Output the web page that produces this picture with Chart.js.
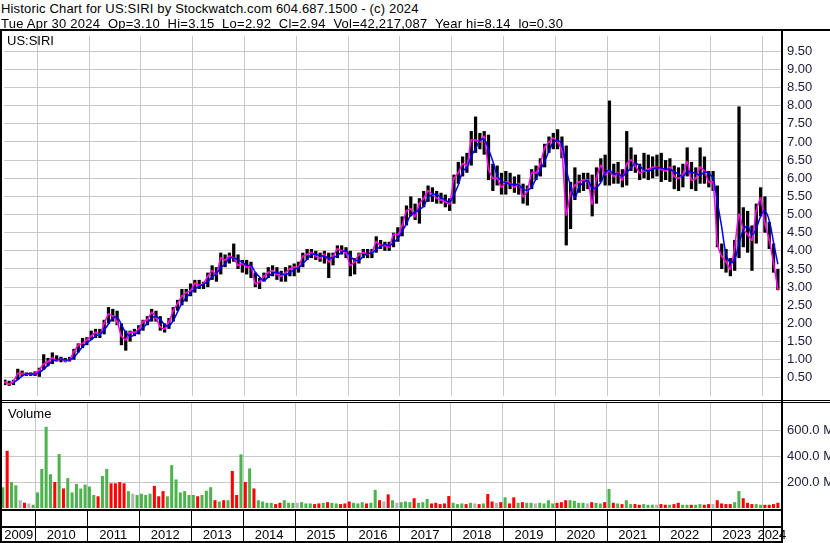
<!DOCTYPE html>
<html>
<head>
<meta charset="utf-8">
<script src="https://cdn.jsdelivr.net/npm/chart.js@4.4.1/dist/chart.umd.min.js"></script>
<style>
body{margin:0;background:#fff;width:830px;height:543px;overflow:hidden;position:relative;font-family:Arial,"Liberation Sans",sans-serif;}
canvas{position:absolute;left:0;}
.txt{position:absolute;font-size:13px;line-height:15px;color:#000;white-space:pre;}
.ln{position:absolute;background:#000;}
</style>
</head>
<body>
<canvas id="price" width="830" height="368" style="top:32px"></canvas>
<canvas id="vol" width="830" height="140" style="top:403px"></canvas>

<div class="txt" style="left:1px;top:0.5px;letter-spacing:0.17px">Historic Chart for US:SIRI by Stockwatch.com 604.687.1500 - (c) 2024</div>
<div class="txt" style="left:1px;top:15.5px;letter-spacing:0.24px">Tue Apr 30 2024  Op=3.10  Hi=3.15  Lo=2.92  Cl=2.94  Vol=42,217,087  Year hi=8.14  lo=0.30</div>
<div class="txt" style="left:7px;top:33px">US:SIRI</div>
<div class="txt" style="left:8px;top:406px">Volume</div>
<div class="ln" style="left:0;top:29px;width:830px;height:2px"></div>
<div class="ln" style="left:0;top:31px;width:2px;height:512px"></div>
<div class="ln" style="left:781px;top:31px;width:2px;height:512px"></div>
<div class="ln" style="left:0;top:400px;width:830px;height:1px"></div>
<div class="ln" style="left:0;top:402px;width:830px;height:1px"></div>

<script>
// monthly bars, first one is May 2009, last one is Apr 2024
const startYear = 2009;
const startMonth = 5;

const lows = [
  0.30,0.28,0.30,0.45,0.55,0.55,0.55,0.55,
  0.53,0.72,0.82,0.88,0.95,0.93,0.93,0.95,1.00,1.20,1.32,1.40,
  1.55,1.60,1.60,1.70,2.00,2.05,1.95,1.40,1.25,1.50,1.65,1.70,
  1.80,1.95,2.05,2.05,1.80,1.75,1.85,2.05,2.35,2.50,2.60,2.75,
  2.85,2.95,2.95,3.00,3.20,3.15,3.35,3.55,3.65,3.70,3.50,3.40,
  3.35,3.25,3.00,2.95,3.15,3.25,3.30,3.20,3.15,3.15,3.30,3.30,
  3.40,3.55,3.75,3.80,3.75,3.70,3.65,3.25,3.60,3.80,3.90,3.80,
  3.30,3.35,3.65,3.80,3.80,3.80,3.95,4.05,4.00,4.00,4.10,4.25,
  4.40,4.70,4.95,4.85,4.75,5.20,5.35,5.35,5.30,5.30,5.20,5.10,
  5.30,5.85,6.05,6.15,6.35,6.70,6.80,6.65,5.95,5.65,5.80,5.55,
  5.55,5.70,5.60,5.55,5.30,5.25,5.70,5.95,6.05,6.30,6.70,6.80,
  6.80,6.55,4.15,4.60,5.40,5.60,5.65,5.70,4.95,5.30,5.90,5.80,
  5.80,5.85,5.85,5.75,5.80,6.20,6.15,5.95,6.00,5.95,6.00,6.05,
  5.90,5.95,5.90,5.70,5.65,5.75,6.05,5.70,5.65,5.85,5.85,5.75,
  5.65,4.10,3.50,3.40,3.30,3.45,3.80,4.10,3.95,3.45,4.20,4.95,
  4.50,4.05,3.40,2.92
];
const highs = [
  0.45,0.42,0.45,0.75,0.70,0.65,0.65,0.68,
  0.78,1.15,1.05,1.20,1.12,1.08,1.05,1.08,1.30,1.45,1.60,1.62,
  1.80,1.85,1.85,2.10,2.45,2.40,2.35,2.00,1.80,1.80,1.85,1.95,
  2.10,2.20,2.40,2.35,2.20,2.00,2.15,2.45,2.65,2.95,2.95,3.10,
  3.20,3.20,3.15,3.40,3.60,3.55,3.95,3.90,3.95,4.20,3.90,3.75,
  3.75,3.70,3.40,3.25,3.40,3.55,3.60,3.55,3.45,3.55,3.60,3.65,
  3.70,3.95,4.05,4.05,4.00,3.95,4.00,3.95,3.95,4.15,4.15,4.10,
  4.00,3.80,3.95,4.05,4.05,4.05,4.40,4.30,4.25,4.25,4.50,4.65,
  4.95,5.25,5.50,5.30,5.45,5.65,5.80,5.75,5.65,5.60,5.55,5.45,
  6.10,6.45,6.60,6.70,7.30,7.70,7.25,7.30,7.20,6.40,6.35,6.15,
  6.20,6.15,6.05,6.10,5.85,5.80,6.25,6.35,6.55,6.95,7.15,7.25,
  7.35,7.15,6.90,5.90,6.30,6.10,6.15,6.15,6.10,6.30,6.55,6.65,
  8.14,6.40,6.45,6.25,7.30,6.85,6.65,6.40,6.70,6.65,6.60,6.65,
  6.70,6.50,6.55,6.35,6.30,6.40,6.85,6.45,6.30,6.85,6.60,6.20,
  6.20,5.80,4.20,4.05,3.80,4.30,7.98,5.20,5.10,4.70,5.30,5.75,
  5.50,4.80,4.20,3.50
];
const closes = [
  0.38,0.33,0.40,0.62,0.62,0.60,0.60,0.62,
  0.72,0.88,0.95,1.05,0.98,1.02,0.97,1.00,1.22,1.40,1.45,1.55,
  1.65,1.75,1.70,2.00,2.25,2.20,2.05,1.65,1.55,1.75,1.75,1.85,
  2.05,2.10,2.30,2.15,1.90,1.85,2.05,2.35,2.55,2.75,2.85,2.90,
  3.10,3.05,3.10,3.30,3.45,3.35,3.80,3.75,3.85,3.80,3.60,3.65,
  3.55,3.58,3.10,3.15,3.30,3.40,3.45,3.35,3.30,3.40,3.50,3.55,
  3.55,3.85,3.90,3.95,3.85,3.80,3.90,3.70,3.85,4.05,4.00,3.95,
  3.60,3.70,3.90,3.95,3.92,3.95,4.25,4.15,4.15,4.10,4.45,4.45,
  4.70,5.10,5.15,4.95,5.30,5.45,5.65,5.55,5.45,5.40,5.35,5.30,
  6.00,6.15,6.40,6.35,7.05,7.05,7.00,7.15,6.25,6.00,6.00,5.75,
  5.90,5.85,5.75,5.85,5.50,5.65,6.15,6.15,6.40,6.85,7.00,7.10,
  7.00,6.75,5.00,5.60,5.80,5.90,5.95,5.95,5.30,6.00,6.35,6.10,
  6.20,6.05,6.15,5.95,6.40,6.50,6.35,6.15,6.20,6.25,6.30,6.30,
  6.25,6.20,6.30,6.05,6.00,6.10,6.45,5.95,6.00,6.30,6.20,5.90,
  5.90,4.20,3.85,3.70,3.50,4.10,5.00,4.60,4.45,4.30,5.10,5.45,
  4.75,4.30,3.65,2.94
];
// volume in millions of shares
const volumes = [
  160,440,200,175,60,40,35,25,
  120,300,625,260,200,415,150,230,120,185,150,180,
  165,100,90,246,300,190,190,200,190,130,110,100,
  110,100,110,170,90,130,90,330,220,120,130,100,
  100,90,100,133,160,60,50,60,60,285,100,413,
  200,305,150,60,50,40,40,30,40,60,40,40,
  40,45,35,35,30,35,40,45,40,35,30,35,
  50,40,35,45,35,40,140,60,50,105,60,40,
  45,50,45,75,40,45,70,35,40,30,35,92,
  40,30,35,30,40,35,30,35,108,50,40,45,
  82,35,82,40,45,40,40,35,40,35,60,35,
  40,45,60,60,55,40,40,35,45,40,35,45,
  146,40,35,30,60,30,30,25,30,25,25,25,
  30,25,25,30,40,25,25,25,25,30,25,30,
  30,60,35,30,30,45,130,75,40,30,30,25,
  25,25,30,40
];

const priceTicks = [0.5,1,1.5,2,2.5,3,3.5,4,4.5,5,5.5,6,6.5,7,7.5,8,8.5,9,9.5];
const volTicks = [200,400,600];
const yearTicks = [2010,2011,2012,2013,2014,2015,2016,2017,2018,2019,2020,2021,2022,2023,2024];
const yearLabels = [2009,2010,2011,2012,2013,2014,2015,2016,2017,2018,2019,2020,2021,2022,2023,2024];

const tMin = 2009.359;
const tMax = 2024.352;

Chart.defaults.font.family = 'Arial, "Liberation Sans", sans-serif';

function monthPos(i) {
  return startYear + (startMonth - 1 + i + 0.5) / 12;
}

const rangePts = lows.map((lo, i) => ({ x: monthPos(i), y: [lo, highs[i]] }));
const closePts = closes.map((c, i) => ({ x: monthPos(i), y: c }));
// 3 month moving average of the close
const maPts = [];
closes.forEach((c, i) => {
  if (i < 2) return;
  maPts.push({ x: monthPos(i), y: (c + closes[i - 1] + closes[i - 2]) / 3 });
});
const volPts = volumes.map((v, i) => ({ x: monthPos(i), y: v }));
const volColors = closes.map((c, i) => {
  if (i === 0 || c > closes[i - 1]) return '#4db34d';
  if (c < closes[i - 1]) return '#ff0000';
  return '#b4b4b4';
});

function noPad(s) {
  s.paddingTop = 0; s.paddingBottom = 0; s.paddingLeft = 0; s.paddingRight = 0;
}

function xAxis(h) {
  return {
    type: 'linear', min: tMin, max: tMax, offset: false,
    grid: { color: '#c8c8c8', lineWidth: 1, drawTicks: false, offset: false },
    border: { display: false },
    ticks: { display: false },
    afterBuildTicks: s => { s.ticks = yearTicks.map(v => ({ value: v })); },
    afterFit: s => { s.height = h; noPad(s); }
  };
}

const priceChart = new Chart(document.getElementById('price'), {
  type: 'bar',
  data: {
    datasets: [
      { type: 'line', data: maPts, borderColor: '#0000ff', borderWidth: 1.5, pointRadius: 0, tension: 0.4, order: 1 },
      { type: 'line', data: closePts, borderColor: '#ff00ff', borderWidth: 1.5, pointRadius: 0, tension: 0.2, order: 2 },
      { type: 'line', data: closePts, showLine: false, pointStyle: 'rect', pointRadius: 1.5, pointBackgroundColor: '#ff0000', pointBorderWidth: 0, order: 3 },
      { type: 'bar', data: rangePts, backgroundColor: '#000000', barPercentage: 0.75, categoryPercentage: 1, order: 4 }
    ]
  },
  options: {
    responsive: false,
    animation: false,
    layout: { padding: { left: 2, right: 0, top: 0, bottom: 0 } },
    plugins: { legend: { display: false }, tooltip: { enabled: false } },
    scales: {
      x: xAxis(0),
      y: {
        position: 'right', min: 0, max: 9.92,
        grid: { color: '#c8c8c8', lineWidth: 1, drawTicks: false },
        border: { display: false },
        ticks: { padding: 6, color: '#1a1a3a', font: { size: 13 }, callback: v => Number(v).toFixed(2) },
        afterBuildTicks: s => { s.ticks = priceTicks.map(v => ({ value: v })); },
        afterFit: s => { s.width = 49; noPad(s); }
      }
    }
  }
});

const axisRows = {
  id: 'axisRows',
  afterDraw(chart) {
    const { ctx, chartArea: a, scales: { x } } = chart;
    const b = a.bottom;
    ctx.save();
    ctx.fillStyle = '#000';
    ctx.fillRect(0, b + 1, a.right, 2);
    ctx.fillRect(0, b + 18, a.right, 2);
    ctx.fillRect(0, b + 33, a.right, 2);
    yearTicks.forEach(yr => {
      const px = Math.round(x.getPixelForValue(yr));
      ctx.fillRect(px, b + 3, 1, 30);
    });
    ctx.font = '13px Arial, "Liberation Sans", sans-serif';
    ctx.textAlign = 'center';
    ctx.textBaseline = 'alphabetic';
    yearLabels.forEach(yr => {
      const l = Math.max(a.left, x.getPixelForValue(yr));
      const r = Math.min(a.right, x.getPixelForValue(yr + 1));
      ctx.fillText(String(yr), (l + r) / 2, b + 31);
    });
    ctx.restore();
  }
};

const volChart = new Chart(document.getElementById('vol'), {
  type: 'bar',
  data: {
    datasets: [
      { data: volPts, backgroundColor: volColors, barPercentage: 0.7, categoryPercentage: 1 }
    ]
  },
  options: {
    responsive: false,
    animation: false,
    layout: { padding: { left: 2, right: 0, top: 0, bottom: 0 } },
    plugins: { legend: { display: false }, tooltip: { enabled: false } },
    scales: {
      x: xAxis(35),
      y: {
        position: 'right', min: 0, max: 808,
        grid: { color: '#c8c8c8', lineWidth: 1, drawTicks: false },
        border: { display: false },
        ticks: { padding: 6, color: '#1a1a3a', font: { size: 13 }, callback: v => Number(v).toFixed(1) + ' M' },
        afterBuildTicks: s => { s.ticks = volTicks.map(v => ({ value: v })); },
        afterFit: s => { s.width = 49; noPad(s); }
      }
    }
  },
  plugins: [axisRows]
});
</script>
</body>
</html>
